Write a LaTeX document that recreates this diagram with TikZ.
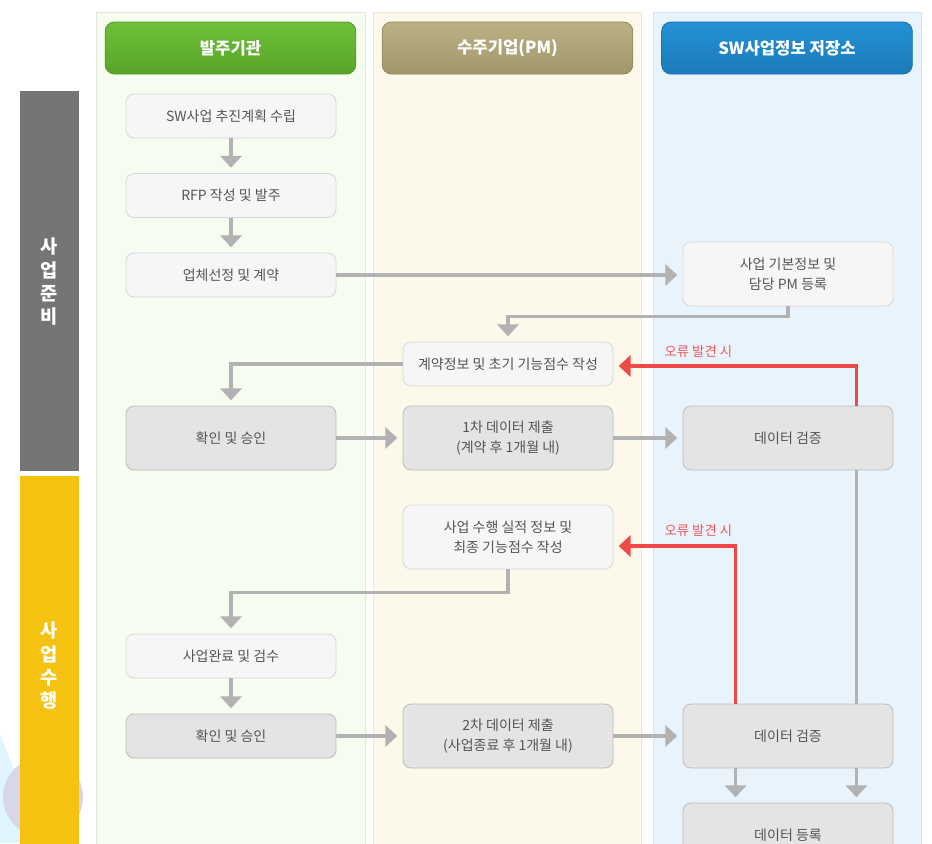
\documentclass[tikz,border=0pt]{standalone}
\usepackage{fontspec}
\setmainfont{Noto Sans CJK KR}
\usetikzlibrary{arrows.meta,calc}
\definecolor{txt}{HTML}{555555}
\definecolor{bxfill}{HTML}{F6F6F6}
\definecolor{bxline}{HTML}{D8D8D8}
\definecolor{bdfill}{HTML}{E4E4E4}
\definecolor{bdline}{HTML}{BEBEBE}
\definecolor{argray}{HTML}{B2B2B2}
\definecolor{errred}{HTML}{EE4848}
\definecolor{sidegray}{HTML}{757575}
\definecolor{sideyel}{HTML}{F5C211}
\begin{document}
\begin{tikzpicture}[x=0.75pt, y=-0.75pt,
  every node/.style={font=\fontsize{10.5}{15}\selectfont, text=txt},
  box/.style={draw=bxline, fill=bxfill, line width=0.6pt, rounded corners=6pt, align=center, minimum width=157.5pt, minimum height=33pt},
  boxd/.style={box, draw=bdline, fill=bdfill},
  tall/.style={minimum height=48pt},
  hd/.style={rounded corners=7pt, line width=0.6pt, minimum width=188pt, minimum height=39pt, text=white, font=\fontsize{12.5}{15}\selectfont\bfseries},
  side/.style={text=white, align=center, font=\fontsize{14}{17.5}\selectfont\bfseries},
  ln/.style={draw=argray, line width=2.6pt},
  ar/.style={ln, -{Triangle[width=16pt,length=9pt]}, shorten >=4pt},
  er/.style={ar, draw=errred},
  lbl/.style={text=errred!90, anchor=west, font=\fontsize{10}{12}\selectfont}]
  \useasboundingbox (0,0) rectangle (932,843);
  \clip (0,0) rectangle (932,843);
  % background
  \fill[cyan!12] (0,735) -- (45,843) -- (0,843) -- cycle;
  \fill[blue!25!gray!25] (43,797) circle (40);
  \filldraw[fill={rgb,255:red,247;green,252;blue,241}, draw={rgb,255:red,226;green,233;blue,220}] (96,12) rectangle (365,870);
  \filldraw[fill={rgb,255:red,252;green,248;blue,234}, draw={rgb,255:red,237;green,231;blue,212}] (373,12) rectangle (641,870);
  \filldraw[fill={rgb,255:red,232;green,243;blue,252}, draw={rgb,255:red,212;green,227;blue,239}] (653,12) rectangle (921,870);
  % phases
  \fill[sidegray] (20,91) rectangle (79,471);
  \fill[sideyel] (20,476) rectangle (79,870);
  \node[side] (prep) at (49.5,282) {사\\업\\준\\비};
  \node[side] (exec) at (49.5,666) {사\\업\\수\\행};
  % lane headers
  \node[hd, draw={rgb,255:red,80;green,155;blue,36}, top color={rgb,255:red,110;green,192;blue,55}, bottom color={rgb,255:red,88;green,164;blue,42}] (h1) at (230.5,48) {발주기관};
  \node[hd, draw={rgb,255:red,146;green,136;blue,98}, top color={rgb,255:red,189;green,176;blue,133}, bottom color={rgb,255:red,160;green,151;blue,109}] (h2) at (507.5,48) {수주기업(PM)};
  \node[hd, draw={rgb,255:red,24;green,112;blue,170}, top color={rgb,255:red,35;green,146;blue,211}, bottom color={rgb,255:red,27;green,122;blue,186}] (h3) at (787,48) {SW사업정보 저장소};
  % 발주기관
  \node[box] (plan) at (231,116) {SW사업 추진계획 수립};
  \node[box] (rfp) at (231,195.5) {RFP 작성 및 발주};
  \node[box] (sel) at (231,275) {업체선정 및 계약};
  \node[boxd, tall] (ok1) at (231,438) {확인 및 승인};
  \node[box] (done) at (231,656) {사업완료 및 검수};
  \node[boxd] (ok2) at (231,736) {확인 및 승인};
  % 수주기업
  \node[box] (fp1) at (508,364) {계약정보 및 초기 기능점수 작성};
  \node[boxd, tall] (sub1) at (508,438) {1차 데이터 제출\\(계약 후 1개월 내)};
  \node[box, tall] (fp2) at (508,537) {사업 수행 실적 정보 및\\최종 기능점수 작성};
  \node[boxd, tall] (sub2) at (508,736) {2차 데이터 제출\\(사업종료 후 1개월 내)};
  % 저장소
  \node[box, tall] (reg) at (788,274) {사업 기본정보 및\\담당 PM 등록};
  \node[boxd, tall] (chk1) at (788,438) {데이터 검증};
  \node[boxd, tall] (chk2) at (788,736) {데이터 검증};
  \node[boxd, tall] (save) at (788,835) {데이터 등록};
  \node[lbl] (err1) at (660,352) {오류 발견 시};
  \node[lbl] (err2) at (660,531) {오류 발견 시};
  % connectors
  \draw[ar] (plan) -- (rfp);
  \draw[ar] (rfp) -- (sel);
  \draw[ar] (sel.east) -- (sel.east -| reg.west);
  \draw[ar] (reg.south) -- ++(0,10) -| (fp1.north);
  \draw[ar] (fp1.west) -| (ok1.north);
  \draw[ar] (ok1.east) -- (ok1.east -| sub1.west);
  \draw[ar] (sub1.east) -- (sub1.east -| chk1.west);
  \draw[er] ($(chk1.north east)+(-37,0)$) |- ($(fp1.east)+(0,2)$);
  \draw[ln] ($(chk1.south east)+(-37,0)$) -- ($(chk2.north east)+(-37,0)$);
  \draw[ar] (fp2.south) -- ++(0,23) -| (done.north);
  \draw[ar] (done) -- (ok2);
  \draw[ar] (ok2.east) -- (ok2.east -| sub2.west);
  \draw[ar] (sub2.east) -- (sub2.east -| chk2.west);
  \draw[er] ($(chk2.north west)+(53,0)$) |- ($(fp2.east)+(0,9)$);
  \draw[ar] ($(chk2.south west)+(53,0)$) -- ($(save.north west)+(53,0)$);
  \draw[ar] ($(chk2.south east)+(-37,0)$) -- ($(save.north east)+(-37,0)$);
\end{tikzpicture}
\end{document}
